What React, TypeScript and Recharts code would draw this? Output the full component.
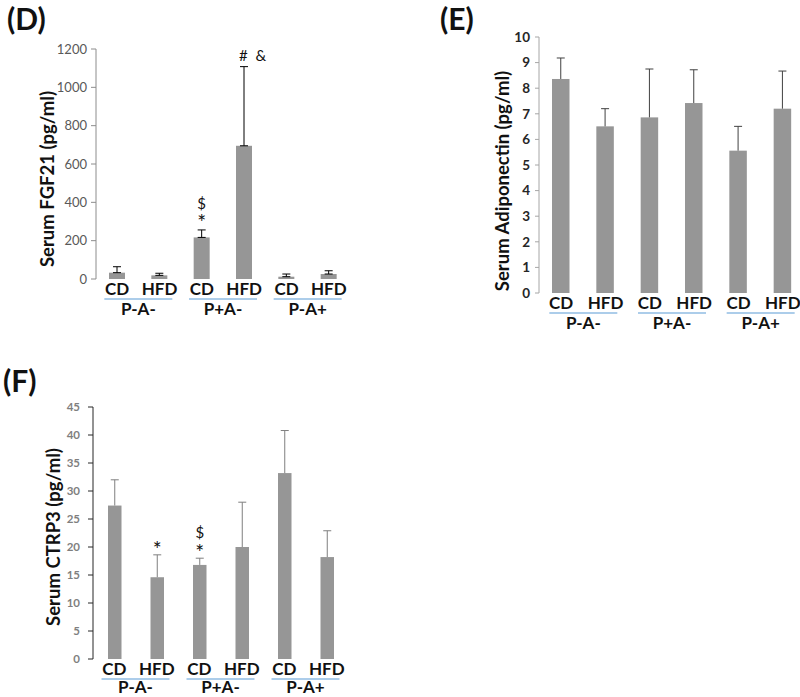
import React from 'react';
import { BarChart, Bar, XAxis, YAxis } from 'recharts';

const groups = ['P-A-', 'P+A-', 'P-A+'];
const diets = ['CD', 'HFD', 'CD', 'HFD', 'CD', 'HFD'];

// (D) serum FGF21
const fgf21Mean = [33, 19, 217, 695, 12, 26];
const fgf21Err = [31, 11, 39, 413, 14, 17];
const fgf21Marks = [[], [], ['$', '*'], ['#  &'], [], []];
const fgf21Ticks = [0, 200, 400, 600, 800, 1000, 1200];

// (E) serum adiponectin
const adipoMean = [8.36, 6.51, 6.86, 7.42, 5.56, 7.2];
const adipoErr = [0.82, 0.69, 1.89, 1.3, 0.95, 1.47];
const adipoTicks = [0, 1, 2, 3, 4, 5, 6, 7, 8, 9, 10];

// (F) serum CTRP3
const ctrp3Mean = [27.4, 14.6, 16.8, 20.0, 33.2, 18.2];
const ctrp3Err = [4.6, 4.0, 1.2, 8.0, 7.6, 4.7];
const ctrp3Marks = [[], ['*'], ['$', '*'], [], [], []];
const ctrp3Ticks = [0, 5, 10, 15, 20, 25, 30, 35, 40, 45];

const FONT = 'Lato, "Open Sans", sans-serif';
const BAR = '#969696';
const BLUE = '#5b9bd5';

const makeRows = (mean: number[], err: number[], marks?: string[][]) =>
  diets.map((diet, i) => ({
    diet,
    group: groups[Math.floor(i / 2)],
    mean: mean[i],
    err: err[i],
    marks: marks ? marks[i] : [],
  }));

const DietTick = (props: any) => {
  const { x, y, payload } = props;
  return (
    <text x={x} y={y + 16} textAnchor="middle" fontFamily={FONT} fontWeight={700} fontSize={17} fill="#111">
      {payload.value}
    </text>
  );
};

const makeGroupTick = (dy: number) => (props: any) => {
  const { x, y, payload } = props;
  return (
    <g>
      <line x1={x - 34} x2={x + 34} y1={y} y2={y} stroke={BLUE} strokeWidth={1.2} />
      <text x={x} y={y + dy} textAnchor="middle" fontFamily={FONT} fontWeight={700} fontSize={17} fill="#111">
        {payload.value}
      </text>
    </g>
  );
};

interface PanelProps {
  rows: any[];
  left: number;
  top: number;
  width: number;
  height: number;
  margin: { top: number; right: number; bottom: number; left: number };
  yWidth: number;
  max: number;
  ticks: number[];
  barSize: number;
  tickStyle: any;
  axisColor: string;
  errColor: string;
  lowerCap?: boolean;
  tickSize: number;
  tickMargin: number;
  groupHeight: number;
  groupDy: number;
  markGap: number;
  markStep: number;
}

const Panel = (p: PanelProps) => {
  const GroupTick = makeGroupTick(p.groupDy);
  const shape = (s: any) => {
    const { x, y, width, height, payload } = s;
    const k = payload.mean > 0 ? height / payload.mean : 0;
    const cx = x + width / 2;
    const top = y - payload.err * k;
    const lines = [...payload.marks].reverse();
    return (
      <g>
        <rect x={x} y={y} width={width} height={height} fill={BAR} />
        <line x1={cx} x2={cx} y1={y} y2={top} stroke={p.errColor} strokeWidth={1} />
        <line x1={cx - 4} x2={cx + 4} y1={top} y2={top} stroke={p.errColor} strokeWidth={1} />
        {p.lowerCap && <line x1={cx - 4} x2={cx + 4} y1={y} y2={y} stroke={p.errColor} strokeWidth={1} />}
        {lines.map((m: string, j: number) => {
          const star = m === '*';
          return (
            <text
              key={j}
              x={m.length > 1 ? cx - 5 : cx}
              y={top - p.markGap - j * p.markStep + (star ? 6 : 0)}
              textAnchor={m.length > 1 ? 'start' : 'middle'}
              fontFamily={FONT}
              fontSize={star ? 21 : 15}
              fill="#111"
              style={{ whiteSpace: 'pre' }}
            >
              {m}
            </text>
          );
        })}
      </g>
    );
  };

  return (
    <div style={{ position: 'absolute', left: p.left, top: p.top }}>
      <BarChart width={p.width} height={p.height} data={p.rows} margin={p.margin}>
        <XAxis
          dataKey="diet"
          height={20}
          axisLine={false}
          tickLine={false}
          tickSize={0}
          tickMargin={0}
          interval={0}
          tick={(t: any) => <DietTick {...t} />}
        />
        <XAxis
          xAxisId="grp"
          dataKey="group"
          allowDuplicatedCategory={false}
          height={p.groupHeight}
          axisLine={false}
          tickLine={false}
          tickSize={0}
          tickMargin={0}
          interval={0}
          tick={(t: any) => <GroupTick {...t} />}
        />
        <YAxis
          width={p.yWidth}
          domain={[0, p.max]}
          ticks={p.ticks}
          interval={0}
          axisLine={{ stroke: p.axisColor }}
          tickLine={{ stroke: p.axisColor }}
          tickSize={p.tickSize}
          tickMargin={p.tickMargin}
          tick={p.tickStyle}
        />
        <Bar dataKey="mean" barSize={p.barSize} isAnimationActive={false} shape={shape} />
      </BarChart>
    </div>
  );
};

const YTitle = ({ x, y, text }: { x: number; y: number; text: string }) => (
  <div
    style={{
      position: 'absolute',
      left: x,
      top: y,
      transform: 'translate(-50%, -50%) rotate(-90deg)',
      whiteSpace: 'nowrap',
      fontFamily: FONT,
      fontWeight: 700,
      fontSize: 18.5,
      color: '#111',
      lineHeight: 1,
    }}
  >
    {text}
  </div>
);

const PanelLabel = ({ x, y, text }: { x: number; y: number; text: string }) => (
  <div
    style={{
      position: 'absolute',
      left: x,
      top: y,
      fontFamily: FONT,
      fontWeight: 700,
      fontSize: 30,
      lineHeight: 1.2,
      color: '#111',
    }}
  >
    {text}
  </div>
);

export default function App() {
  return (
    <div
      style={{
        position: 'absolute',
        left: 0,
        top: 0,
        width: 800,
        height: 697,
        overflow: 'hidden',
        background: '#fff',
      }}
    >
      <PanelLabel x={7} y={0} text="(D)" />
      <PanelLabel x={440} y={0} text="(E)" />
      <PanelLabel x={3} y={362} text="(F)" />

      <YTitle x={47} y={179} text="Serum FGF21 (pg/ml)" />
      <YTitle x={502} y={181} text="Serum Adiponectin (pg/ml)" />
      <YTitle x={53} y={537} text="Serum CTRP3 (pg/ml)" />

      <Panel
        rows={makeRows(fgf21Mean, fgf21Err, fgf21Marks)}
        left={0}
        top={0}
        width={380}
        height={330}
        margin={{ top: 49, right: 30, bottom: 5, left: 36 }}
        yWidth={60}
        max={1200}
        ticks={fgf21Ticks}
        barSize={16}
        tickStyle={{ fill: '#595959', fontSize: 13, fontFamily: FONT }}
        axisColor="#8c8c8c"
        errColor="#000"
        lowerCap
        tickSize={5}
        tickMargin={4}
        groupHeight={26}
        groupDy={16}
        markGap={6}
        markStep={15}
      />

      <Panel
        rows={makeRows(adipoMean, adipoErr)}
        left={480}
        top={0}
        width={330}
        height={340}
        margin={{ top: 37, right: 5, bottom: 1, left: 14 }}
        yWidth={45}
        max={10}
        ticks={adipoTicks}
        barSize={17.5}
        tickStyle={{ fill: '#262626', fontSize: 13.5, fontWeight: 700, fontFamily: FONT }}
        axisColor="#a6a6a6"
        errColor="#404040"
        tickSize={4}
        tickMargin={5}
        groupHeight={26}
        groupDy={16}
        markGap={6}
        markStep={15}
      />

      <Panel
        rows={makeRows(ctrp3Mean, ctrp3Err, ctrp3Marks)}
        left={0}
        top={370}
        width={380}
        height={327}
        margin={{ top: 37, right: 32, bottom: 0, left: 48 }}
        yWidth={45}
        max={45}
        ticks={ctrp3Ticks}
        barSize={13.5}
        tickStyle={{ fill: '#7f7f7f', fontSize: 11.5, fontWeight: 700, fontFamily: FONT }}
        axisColor="#262626"
        errColor="#7f7f7f"
        tickSize={5}
        tickMargin={8}
        groupHeight={18}
        groupDy={14}
        markGap={4}
        markStep={16}
      />
    </div>
  );
}
